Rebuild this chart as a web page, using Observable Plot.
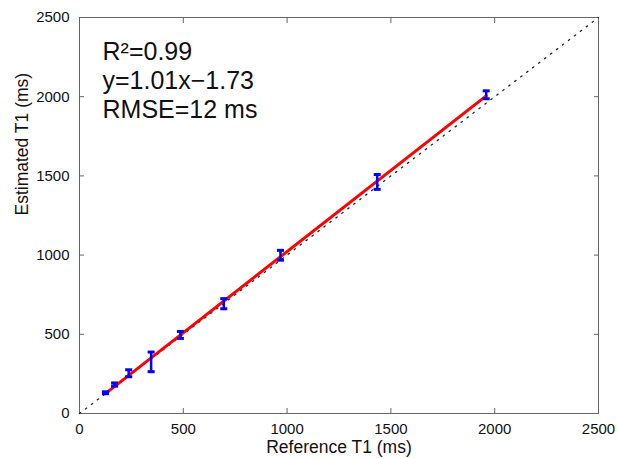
<!DOCTYPE html>
<html><head><meta charset="utf-8">
<script src="https://cdn.jsdelivr.net/npm/d3@7"></script>
<script src="https://cdn.jsdelivr.net/npm/@observablehq/plot@0.6"></script>
<style>
html,body{margin:0;padding:0;background:#fff;}
#chart{width:618px;height:459px;}
</style>
</head><body><div id="chart"></div>
<script>
// Data
const referenceT1 = [125, 169, 237, 345, 486, 695, 968, 1434, 1959];
const estimatedT1 = [131, 183, 254, 326, 496, 693, 999, 1462, 2012];
const errorHalf   = [6, 10, 22, 62, 22, 32, 31, 47, 25];
const identityLine = [0, 2500];
const xTicks = [0, 500, 1000, 1500, 2000, 2500];
const yTicks = [0, 500, 1000, 1500, 2000, 2500];
const annotationLines = ["R\u00B2=0.99", "y=1.01x\u22121.73", "RMSE=12 ms"];
const xLabel = "Reference T1 (ms)";
const yLabel = "Estimated T1 (ms)";

const points = referenceT1.map((r, i) => ({
  ref: r,
  est: estimatedT1[i],
  lo: estimatedT1[i] - errorHalf[i],
  hi: estimatedT1[i] + errorHalf[i]
}));

const capSymbol = {
  draw(context) {
    context.moveTo(-3.5, 0);
    context.lineTo(3.5, 0);
  }
};

const axisColor = "#666";
const fmt = d3.format("d");

const chart = Plot.plot({
  width: 618,
  height: 459,
  marginLeft: 79,
  marginRight: 20,
  marginTop: 17,
  marginBottom: 46,
  style: {fontFamily: "'Liberation Sans', Arial, sans-serif", fontSize: "15px", color: "#111", background: "#fff"},
  x: {domain: [0, 2500]},
  y: {domain: [0, 2500]},
  marks: [
    Plot.frame({stroke: axisColor}),
    Plot.axisX({ticks: xTicks, tickFormat: fmt, tickSize: -5, tickPadding: 15, stroke: axisColor, fill: "#111",
      fontSize: 15, label: null}),
    Plot.axisX({anchor: "top", ticks: xTicks, tickSize: -5, stroke: axisColor, tickFormat: () => "", label: null}),
    Plot.axisY({ticks: yTicks, tickFormat: fmt, tickSize: -5, tickPadding: 15, stroke: axisColor, fill: "#111",
      fontSize: 15, label: null}),
    Plot.axisY({anchor: "right", ticks: yTicks, tickSize: -5, stroke: axisColor, tickFormat: () => "", label: null}),
    Plot.text([xLabel], {text: d => d, frameAnchor: "bottom", lineAnchor: "middle", dy: 34, fontSize: 17.5, fill: "#111"}),
    Plot.text([yLabel], {text: d => d, frameAnchor: "left", rotate: -90, lineAnchor: "middle", dx: -57, fontSize: 17.5, fill: "#111"}),
    Plot.line(identityLine, {x: d => d, y: d => d, stroke: "#222", strokeWidth: 1.3, strokeDasharray: "1.5,6"}),
    Plot.linearRegressionY(points, {x: "ref", y: "est", stroke: "#f00", strokeWidth: 3, ci: 0}),
    Plot.ruleX(points, {x: "ref", y1: "lo", y2: "hi", stroke: "#00f", strokeWidth: 2.5}),
    Plot.dot(points, {x: "ref", y: "lo", symbol: capSymbol, stroke: "#00f", strokeWidth: 3}),
    Plot.dot(points, {x: "ref", y: "hi", symbol: capSymbol, stroke: "#00f", strokeWidth: 3}),
    Plot.text([annotationLines.join("\n")], {text: d => d, frameAnchor: "top-left", lineAnchor: "top",
      dx: 23, dy: 22, fontSize: 25, lineHeight: 1.16, fill: "#111", textAnchor: "start"})
  ]
});
document.getElementById("chart").appendChild(chart);
</script>
</body></html>
